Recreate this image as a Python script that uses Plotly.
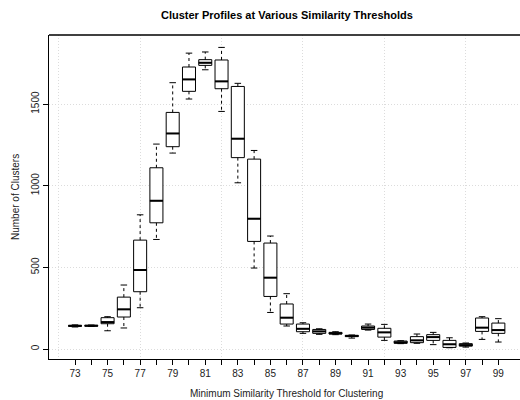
import plotly.graph_objects as go

thresholds = list(range(73, 100))
whisker_low = [135, 138, 112, 129, 253, 671, 1200, 1531, 1710, 1455, 1018, 496, 224, 141,
               96, 90, 88, 67, 116, 53, 33, 35, 27, 8, 12, 59, 43]
q1 = [139, 140, 155, 196, 351, 773, 1239, 1578, 1737, 1594, 1172, 659, 322, 153,
      106, 96, 92, 76, 120, 73, 35, 39, 53, 10, 18, 108, 96]
median = [142, 143, 165, 243, 484, 908, 1320, 1651, 1753, 1639, 1288, 798, 437, 192,
          124, 108, 96, 80, 131, 102, 41, 53, 73, 29, 24, 131, 116]
q3 = [145, 145, 192, 318, 667, 1110, 1449, 1727, 1772, 1770, 1608, 1163, 649, 276,
      153, 120, 102, 84, 141, 127, 49, 76, 88, 53, 33, 190, 159]
whisker_high = [148, 147, 198, 392, 822, 1255, 1631, 1812, 1819, 1847, 1627, 1216, 692, 339,
                161, 124, 106, 86, 153, 151, 51, 92, 102, 69, 37, 198, 186]
tick_labels = [str(t) if t % 2 == 1 else "" for t in thresholds]
y_ticks = [0, 500, 1000, 1500]
x_grid = [72, 77, 82, 87, 92, 97]

FONT = "Liberation Sans, Arial, Helvetica, sans-serif"
BOXW = 0.8
CAPW = 0.4
GRIDC = "#dcdcdc"
GRIDDASH = "1px,2px"

fig = go.Figure()

# whiskers (dashed)
wx, wy = [], []
for t, lo, a, b, hi in zip(thresholds, whisker_low, q1, q3, whisker_high):
    wx += [t, t, None, t, t, None]
    wy += [b, hi, None, a, lo, None]
fig.add_trace(go.Scatter(x=wx, y=wy, mode="lines", line=dict(color="black", width=1, dash="3px,3px"),
                         hoverinfo="skip", showlegend=False))

# caps
cx, cy = [], []
for t, lo, hi in zip(thresholds, whisker_low, whisker_high):
    cx += [t - CAPW / 2, t + CAPW / 2, None, t - CAPW / 2, t + CAPW / 2, None]
    cy += [hi, hi, None, lo, lo, None]
fig.add_trace(go.Scatter(x=cx, y=cy, mode="lines", line=dict(color="black", width=1),
                         hoverinfo="skip", showlegend=False))

# boxes
fig.add_trace(go.Box(x=thresholds, q1=q1, median=median, q3=q3,
                     lowerfence=q1, upperfence=q3, width=BOXW, whiskerwidth=0,
                     fillcolor="white", line=dict(color="black", width=1),
                     boxpoints=False, showlegend=False, hoverinfo="skip"))

# thick medians
mx, my = [], []
for t, m in zip(thresholds, median):
    mx += [t - BOXW / 2, t + BOXW / 2, None]
    my += [m, m, None]
fig.add_trace(go.Scatter(x=mx, y=my, mode="lines", line=dict(color="black", width=2),
                         hoverinfo="skip", showlegend=False))

L, T, PW, PH = 49, 35, 471, 324
x0 = 71.403
x1 = 100.33

fig.update_layout(
    width=520, height=400,
    margin=dict(l=L, r=0, t=T, b=400 - T - PH, pad=0),
    paper_bgcolor="white", plot_bgcolor="white",
    font=dict(family=FONT, size=10, color="black"),
    xaxis=dict(range=[x0, x1], tickmode="array", tickvals=thresholds, ticktext=tick_labels,
               ticks="outside", ticklen=5, tickcolor="black", tickwidth=1,
               showline=True, linecolor="black", linewidth=1.3, showgrid=False, zeroline=False,
               tickfont=dict(size=10, color="#222")),
    xaxis2=dict(range=[x0, x1], overlaying="x", tickmode="array", tickvals=x_grid,
                showticklabels=False, ticks="", showgrid=True, gridcolor=GRIDC,
                griddash=GRIDDASH, gridwidth=1, zeroline=False, showline=False),
    yaxis=dict(range=[-61, 1923], tickmode="array", tickvals=y_ticks,
               ticks="outside", ticklen=5, tickcolor="black", tickwidth=1, tickangle=-90,
               showline=True, linecolor="black", linewidth=1.3, showgrid=True,
               gridcolor=GRIDC, griddash=GRIDDASH, gridwidth=1, zeroline=False,
               tickfont=dict(size=10, color="#222")),
    shapes=[dict(type="line", xref="paper", yref="paper", x0=0, x1=1, y0=1, y1=1,
                 line=dict(color="black", width=1.3))],
    annotations=[
        dict(text="<b>Cluster Profiles at Various Similarity Thresholds</b>", xref="paper", yref="paper",
             x=(286.7 - L) / PW, y=1 + 20 / PH, xanchor="center", yanchor="middle", showarrow=False,
             font=dict(size=11, family=FONT, color="black")),
        dict(text="Minimum Similarity Threshold for Clustering", xref="paper", yref="paper",
             x=(286.7 - L) / PW, y=-(393 - (T + PH)) / PH, xanchor="center", yanchor="middle",
             showarrow=False, font=dict(size=10, family=FONT, color="#222")),
        dict(text="Number of Clusters", xref="paper", yref="paper", textangle=-90,
             x=(15 - L) / PW, y=0.5, xanchor="center", yanchor="middle",
             showarrow=False, font=dict(size=10, family=FONT, color="#222")),
    ],
)
# invisible trace to activate xaxis2 grid
fig.add_trace(go.Scatter(x=[x0], y=[0], xaxis="x2", mode="markers", marker=dict(opacity=0),
                         hoverinfo="skip", showlegend=False))

fig.write_html("out.html")
